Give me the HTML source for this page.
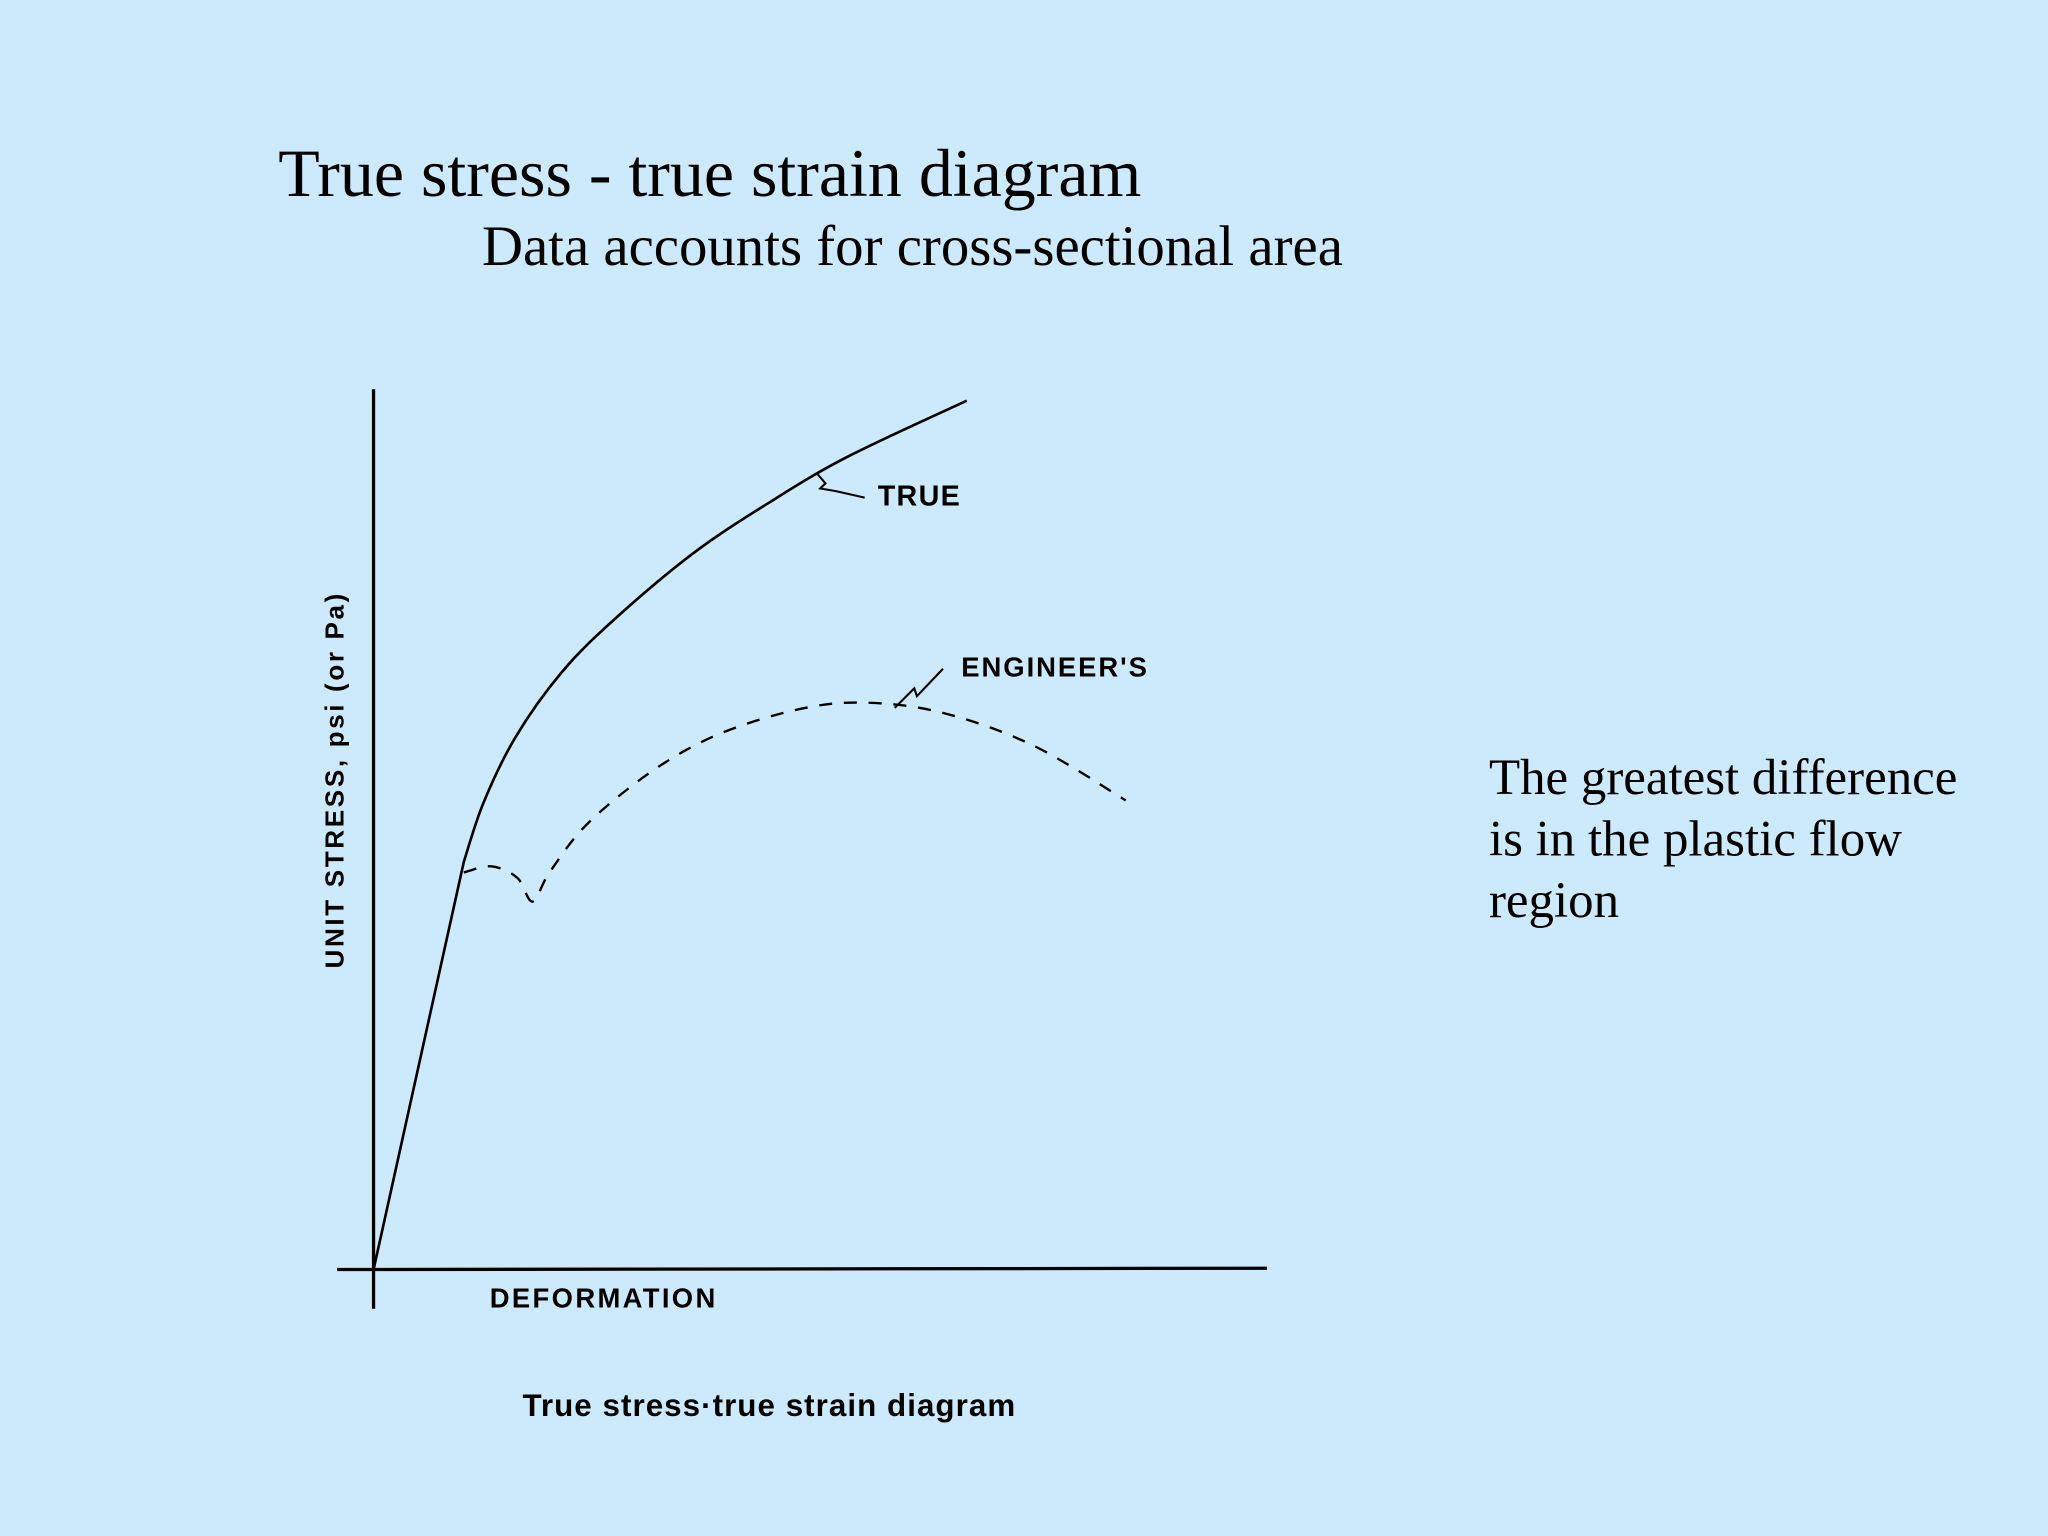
<!DOCTYPE html>
<html><head><meta charset="utf-8"><style>
html,body{margin:0;padding:0;background:#cde9fc;}
svg{display:block;}
</style></head><body>
<svg id="chart" width="2048" height="1536" viewBox="0 0 1568 1176" xmlns="http://www.w3.org/2000/svg">
<rect width="1568" height="1176" fill="#cde9fc"/>
<text x="213" y="150" font-family="Liberation Serif, serif" font-size="52" fill="#000">True stress - true strain diagram</text>
<text x="369" y="203" font-family="Liberation Serif, serif" font-size="43.5" fill="#000">Data accounts for cross-sectional area</text>
<g font-family="Liberation Serif, serif" font-size="39" fill="#000">
<text x="1140" y="608">The greatest difference</text>
<text x="1140" y="655">is in the plastic flow</text>
<text x="1140" y="702">region</text>
</g>
<line x1="286" y1="298" x2="286" y2="1002" stroke="#000" stroke-width="2.5"/>
<line x1="258" y1="972" x2="970" y2="971" stroke="#000" stroke-width="2.5"/>
<text transform="translate(263,597) rotate(-90)" text-anchor="middle" font-family="Liberation Sans, sans-serif" font-weight="bold" font-size="20" letter-spacing="2">UNIT STRESS, psi (or Pa)</text>
<text x="375" y="1001" font-family="Liberation Sans, sans-serif" font-weight="bold" font-size="21" letter-spacing="1.8">DEFORMATION</text>
<text x="400" y="1084" font-family="Liberation Sans, sans-serif" font-weight="bold" font-size="24" letter-spacing="0.8">True stress·true strain diagram</text>
<text x="672" y="387" font-family="Liberation Sans, sans-serif" font-weight="bold" font-size="22" letter-spacing="1">TRUE</text>
<text x="736" y="518" font-family="Liberation Sans, sans-serif" font-weight="bold" font-size="21" letter-spacing="1.5">ENGINEER'S</text>
<path d="M625,362 L632,370 L628,374 L640,376 L662,381" fill="none" stroke="#000" stroke-width="1.6"/>
<path d="M685,542 L700,527 L702,533 L722,512" fill="none" stroke="#000" stroke-width="1.6"/>
<g id="series"></g>
</svg>
<script>
const trueX = [0, 10.1, 12.3, 15.9, 21.1, 27.0, 35.7, 44.4, 53.2, 66.4];
const trueY = [0, 46.3, 53.0, 60.5, 67.9, 73.9, 81.3, 87.2, 92.4, 98.7];
const engX = [10.1, 13.2, 16.1, 17.8, 19.7, 24.0, 31.3, 38.6, 47.4, 54.7, 63.5, 73.7, 84.2];
const engY = [45.1, 45.8, 44.5, 41.8, 45.1, 50.7, 56.7, 60.8, 63.6, 64.4, 63.3, 59.6, 53.3];

function sx(v){ return 286 + v * 6.84; }
function sy(v){ return 972 - v * 6.74; }
function smoothPath(xs, ys, linearFirst){
  const P = xs.map((x, i) => [sx(x), sy(ys[i])]);
  let d = 'M' + P[0][0].toFixed(1) + ',' + P[0][1].toFixed(1);
  for (let i = 0; i < P.length - 1; i++) {
    if (linearFirst && i === 0) { d += ' L' + P[1][0].toFixed(1) + ',' + P[1][1].toFixed(1); continue; }
    const p0 = P[Math.max(i - 1, linearFirst ? 1 : 0)], p1 = P[i], p2 = P[i + 1], p3 = P[Math.min(i + 2, P.length - 1)];
    const c1 = [p1[0] + (p2[0] - p0[0]) / 6, p1[1] + (p2[1] - p0[1]) / 6];
    const c2 = [p2[0] - (p3[0] - p1[0]) / 6, p2[1] - (p3[1] - p1[1]) / 6];
    d += ' C' + c1[0].toFixed(1) + ',' + c1[1].toFixed(1) + ' ' + c2[0].toFixed(1) + ',' + c2[1].toFixed(1) + ' ' + p2[0].toFixed(1) + ',' + p2[1].toFixed(1);
  }
  return d;
}
const g = document.getElementById('series');
const NS = 'http://www.w3.org/2000/svg';
const p1 = document.createElementNS(NS, 'path');
p1.setAttribute('d', smoothPath(trueX, trueY, true));
p1.setAttribute('fill', 'none');
p1.setAttribute('stroke', '#000');
p1.setAttribute('stroke-width', '2');
p1.setAttribute('stroke-linejoin', 'round');


g.appendChild(p1);
const p2 = document.createElementNS(NS, 'path');
p2.setAttribute('d', smoothPath(engX, engY, false));
p2.setAttribute('fill', 'none');
p2.setAttribute('stroke', '#000');
p2.setAttribute('stroke-width', '1.8');
p2.setAttribute('stroke-dasharray', '10 9');
p2.setAttribute('stroke-linejoin', 'round');


g.appendChild(p2);
</script>
</body></html>
